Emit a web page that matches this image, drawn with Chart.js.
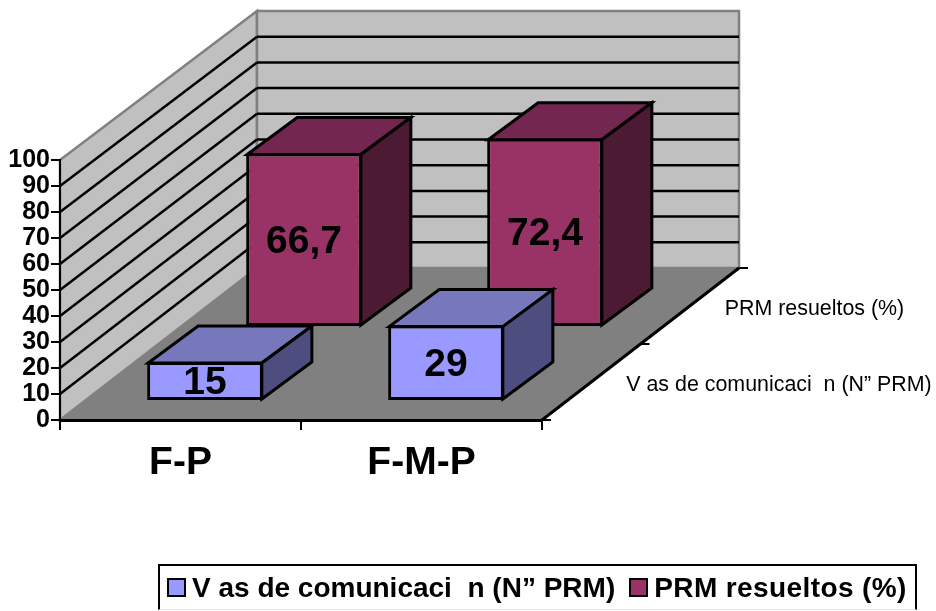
<!DOCTYPE html>
<html lang="es">
<head>
    <meta charset="UTF-8">
    <title>PRM</title>
    <script src="https://cdn.jsdelivr.net/npm/chart.js"></script>
    <style>
        body { margin: 0; background: #fff; }
        #wrap { position: relative; width: 936px; height: 611px; overflow: hidden; }
        #legend {
            position: absolute; left: 158px; top: 564px; width: 748px; height: 43px;
            border: 2px solid #000; border-bottom: 1px solid #e6e6e6;
            display: flex; align-items: center; padding-left: 7px;
            font: bold 28px "Liberation Sans", Arial, sans-serif; letter-spacing: 0.4px; white-space: pre;
        }
        #legend i { flex: none; width: 15px; height: 15px; border: 2px solid #000; margin-right: 6px; display: block; }
        #legend span { margin-right: 14px; }
        #legend span:first-of-type { letter-spacing: 0; }
    </style>
</head>
<body>
<div id="wrap">
    <canvas id="chart" width="936" height="611"></canvas>
    <div id="legend"></div>
</div>
<script>
    var categories = ['F-P', 'F-M-P'];
    var seriesNames = ['V as de comunicaci  n (N” PRM)', 'PRM resueltos (%)'];
    var viasValues = [15, 29];
    var prmValues = [66.7, 72.4];
    var frontColors = ['#9999FF', '#993366'];
    var topColors = ['#7777BB', '#732650'];
    var sideColors = ['#4D4D80', '#4D1A33'];

    // depth of the fake 3D box, and where each row of bars sits in it
    var depthX = 197, depthY = -152;
    var barDepthX = 50, barDepthY = -37;
    var rowX = [24.5, 123.5], rowY = [-19, -93];

    // the back wall comes out a little shorter than the front edge
    function backY(chart, py) {
        var b = chart.chartArea.bottom;
        return b + depthY + (py - b) * 257 / 260;
    }

    function poly(ctx, pts, fill, stroke, lw) {
        ctx.beginPath();
        ctx.moveTo(pts[0][0], pts[0][1]);
        for (var i = 1; i < pts.length; i++) ctx.lineTo(pts[i][0], pts[i][1]);
        ctx.closePath();
        if (fill) { ctx.fillStyle = fill; ctx.fill(); }
        if (stroke) { ctx.strokeStyle = stroke; ctx.lineWidth = lw; ctx.stroke(); }
    }

    function line(ctx, x1, y1, x2, y2, color, lw) {
        ctx.beginPath();
        ctx.moveTo(x1, y1);
        ctx.lineTo(x2, y2);
        ctx.strokeStyle = color;
        ctx.lineWidth = lw;
        ctx.stroke();
    }

    var box3d = {
        id: 'box3d',
        // walls and floor go under the axes
        beforeDraw: function(chart) {
            var ctx = chart.ctx, a = chart.chartArea, y = chart.scales.y;
            var l = a.left, r = a.right, t = a.top, b = a.bottom;
            var dx = depthX, dy = depthY, bt = backY(chart, t), bb = backY(chart, b);
            ctx.save();
            poly(ctx, [[l, b], [l + dx, bb], [r + dx, bb], [r, b]], '#808080');
            poly(ctx, [[l, t], [l + dx, bt], [l + dx, bb], [l, b]], '#C0C0C0', '#808080', 2.5);
            poly(ctx, [[l + dx, bt], [r + dx, bt], [r + dx, bb], [l + dx, bb]], '#C0C0C0', '#808080', 2.5);
            y.ticks.forEach(function(tick) {
                if (tick.value === 0 || tick.value === 100) return;
                var py = y.getPixelForValue(tick.value), by = backY(chart, py);
                line(ctx, l, py, l + dx, by, '#000', 2.5);
                line(ctx, l + dx, by, r + dx, by, '#000', 2.5);
            });
            // third axis on the right side of the floor
            line(ctx, r, b, r + dx, bb, '#000', 3);
            for (var i = 0; i <= seriesNames.length; i++) {
                var f = i / seriesNames.length;
                line(ctx, r + dx * f, b + dy * f, r + dx * f + 9, b + dy * f, '#000', 2);
            }
            ctx.font = '21.4px "Liberation Sans", Arial, sans-serif';
            ctx.fillStyle = '#000';
            ctx.textAlign = 'left';
            ctx.textBaseline = 'alphabetic';
            seriesNames.forEach(function(name, i) {
                var f = (i + 0.5) / seriesNames.length;
                ctx.fillText(name, r + dx * f + 35, b + dy * f + 9);
            });
            ctx.restore();
        },
        // shift each series back into its row, then add top and side faces
        beforeDatasetDraw: function(chart, args) {
            var ctx = chart.ctx, i = args.index;
            ctx.save();
            ctx.translate(rowX[i], rowY[i]);
            args.meta.data.forEach(function(bar) {
                var x0 = bar.x - bar.width / 2, x1 = bar.x + bar.width / 2;
                var dx = barDepthX, dy = barDepthY;
                ctx.lineJoin = 'miter';
                poly(ctx, [[x0 + 1, bar.y + 1], [x0 + dx + 1, bar.y + dy + 1], [x1 + dx - 1, bar.y + dy + 1], [x1 - 1, bar.y + 1]], topColors[i], '#000', 3);
                poly(ctx, [[x1 - 1, bar.y + 1], [x1 + dx - 1, bar.y + dy + 1], [x1 + dx - 1, bar.base + dy - 1], [x1 - 1, bar.base - 1]], sideColors[i], '#000', 3);
            });
        },
        afterDatasetDraw: function(chart, args) {
            var ctx = chart.ctx, i = args.index;
            ctx.font = 'bold 39px "Liberation Sans", Arial, sans-serif';
            ctx.fillStyle = '#000';
            ctx.textAlign = 'center';
            ctx.textBaseline = 'middle';
            args.meta.data.forEach(function(bar, n) {
                var txt = String(chart.data.datasets[i].data[n]).replace('.', ',');
                ctx.fillText(txt, bar.x, (bar.y + bar.base) / 2 + 2);
            });
            ctx.restore();
        }
    };

    new Chart(document.getElementById('chart'), {
        type: 'bar',
        data: {
            labels: categories,
            datasets: [
                { label: seriesNames[0], data: viasValues, backgroundColor: frontColors[0] },
                { label: seriesNames[1], data: prmValues, backgroundColor: frontColors[1] }
            ]
        },
        options: {
            responsive: false,
            animation: false,
            layout: { padding: { top: 160, right: 394 } },
            datasets: {
                bar: {
                    grouped: false,
                    categoryPercentage: 1,
                    barPercentage: 0.48,
                    borderColor: '#000',
                    borderWidth: 3,
                    borderSkipped: false,
                    clip: false
                }
            },
            plugins: { legend: { display: false }, tooltip: { enabled: false } },
            scales: {
                x: {
                    afterFit: function(s) { s.height = 191; },
                    border: { color: '#000', width: 3 },
                    grid: { drawOnChartArea: false, color: '#000', lineWidth: 2, tickLength: 10 },
                    ticks: {
                        color: '#000',
                        padding: 10,
                        maxRotation: 0,
                        font: { family: '"Liberation Sans", Arial, sans-serif', size: 39, weight: 'bold' }
                    }
                },
                y: {
                    min: 0,
                    max: 100,
                    afterFit: function(s) { s.width = 60; },
                    border: { color: '#000', width: 2 },
                    grid: { drawOnChartArea: false, color: '#000', lineWidth: 2, tickLength: 9 },
                    ticks: {
                        stepSize: 10,
                        autoSkip: false,
                        color: '#000',
                        padding: 1,
                        font: { family: '"Liberation Sans", Arial, sans-serif', size: 25, weight: 'bold' }
                    }
                }
            }
        },
        plugins: [box3d]
    });

    // legend sits in its own box under the chart
    var legend = document.getElementById('legend');
    seriesNames.forEach(function(name, i) {
        var swatch = document.createElement('i');
        swatch.style.background = frontColors[i];
        var text = document.createElement('span');
        text.textContent = name;
        legend.appendChild(swatch);
        legend.appendChild(text);
    });
</script>
</body>
</html>
